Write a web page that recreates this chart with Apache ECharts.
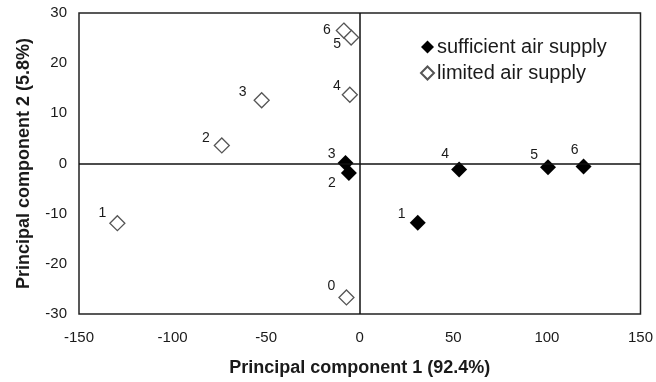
<!DOCTYPE html>
<html>
<head>
<meta charset="utf-8">
<script src="https://cdn.jsdelivr.net/npm/echarts@6/dist/echarts.min.js"></script>
<style>
html,body{margin:0;padding:0;background:#fff;}
#chart{width:656px;height:382px;}
</style>
</head>
<body>
<div id="chart"></div>
<script>
// ---- data ----
const xTicks = [-150, -100, -50, 0, 50, 100, 150];
const yTicks = [-30, -20, -10, 0, 10, 20, 30];

const sufficientName = 'sufficient air supply';
const sufficientLabels = ['1', '2', '3', '4', '5', '6'];
const sufficientX = [31.0, -5.8, -7.6, 53.1, 100.6, 119.6];
const sufficientY = [-11.8, -1.9, 0.1, -1.2, -0.75, -0.6];

const limitedName = 'limited air supply';
const limitedLabels = ['0', '1', '2', '3', '4', '5', '6'];
const limitedX = [-7.1, -129.5, -73.7, -52.4, -5.3, -4.6, -8.5];
const limitedY = [-26.7, -11.9, 3.6, 12.6, 13.7, 25.1, 26.5];

// ---- label placement (style) ----
const sufficientLabelOffsets = [[-16, -9], [-17, 10], [-14, -9], [-14, -15], [-14, -12], [-9, -16]];
const limitedLabelOffsets = [[-15, -11], [-15, -10], [-16, -7], [-19, -8], [-13, -9], [-14, 7], [-17, 0]];

const FONT = "'Liberation Sans', Arial, sans-serif";
const TEXT = '#1a1a1a';

function buildData(xs, ys, labels, offsets) {
  return xs.map((x, i) => ({
    value: [x, ys[i]],
    name: labels[i],
    label: { offset: offsets[i] }
  }));
}

const chart = echarts.init(document.getElementById('chart'), null, { renderer: 'canvas' });

const option = {
  animation: false,
  backgroundColor: '#fff',
  grid: {
    left: 79, right: 13, top: 13, bottom: 63,
    show: true, borderColor: '#222', borderWidth: 1.5, backgroundColor: 'transparent'
  },
  xAxis: {
    type: 'value',
    min: xTicks[0], max: xTicks[xTicks.length - 1], interval: 50,
    name: 'Principal component 1 (92.4%)',
    nameLocation: 'middle', nameGap: 45,
    nameTextStyle: { fontFamily: FONT, fontWeight: 'bold', fontSize: 18, color: TEXT },
    axisLine: { show: false }, axisTick: { show: false }, splitLine: { show: false },
    axisLabel: { fontFamily: FONT, fontSize: 15, color: TEXT, margin: 16 }
  },
  yAxis: {
    type: 'value',
    min: yTicks[0], max: yTicks[yTicks.length - 1], interval: 10,
    name: 'Principal component 2 (5.8%)',
    nameLocation: 'middle', nameGap: 46, nameRotate: 90,
    nameTextStyle: { fontFamily: FONT, fontWeight: 'bold', fontSize: 18, color: TEXT },
    axisLine: { show: false }, axisTick: { show: false }, splitLine: { show: false },
    axisLabel: { fontFamily: FONT, fontSize: 15, color: TEXT, margin: 12 }
  },
  legend: {
    orient: 'vertical',
    left: 420, top: 37,
    padding: 0,
    itemWidth: 13, itemHeight: 13, itemGap: 6,
    data: [
      { name: sufficientName, icon: 'diamond' },
      { name: limitedName, icon: 'diamond' }
    ],
    textStyle: { fontFamily: FONT, fontSize: 20, color: TEXT, lineHeight: 19, padding: [0, 0, 0, -2] }
  },
  series: [
    {
      type: 'line',
      name: 'axes-zero',
      data: [],
      z: 1,
      silent: true,
      markLine: {
        silent: true,
        symbol: 'none',
        label: { show: false },
        lineStyle: { color: '#111', width: 1.5, type: 'solid' },
        data: [{ xAxis: 0 }, { yAxis: 0 }]
      }
    },
    {
      type: 'scatter',
      name: limitedName,
      z: 3,
      symbol: 'diamond',
      symbolSize: 15,
      itemStyle: { color: '#fff', borderColor: '#555', borderWidth: 1.3, opacity: 1 },
      label: {
        show: true, position: 'inside',
        formatter: p => p.name,
        fontFamily: FONT, fontSize: 14, color: TEXT
      },
      data: buildData(limitedX, limitedY, limitedLabels, limitedLabelOffsets)
    },
    {
      type: 'scatter',
      name: sufficientName,
      z: 4,
      symbol: 'diamond',
      symbolSize: 16,
      itemStyle: { color: '#000', borderColor: '#000', borderWidth: 0, opacity: 1 },
      label: {
        show: true, position: 'inside',
        formatter: p => p.name,
        fontFamily: FONT, fontSize: 14, color: TEXT
      },
      data: buildData(sufficientX, sufficientY, sufficientLabels, sufficientLabelOffsets)
    }
  ]
};

chart.setOption(option);
</script>
</body>
</html>
